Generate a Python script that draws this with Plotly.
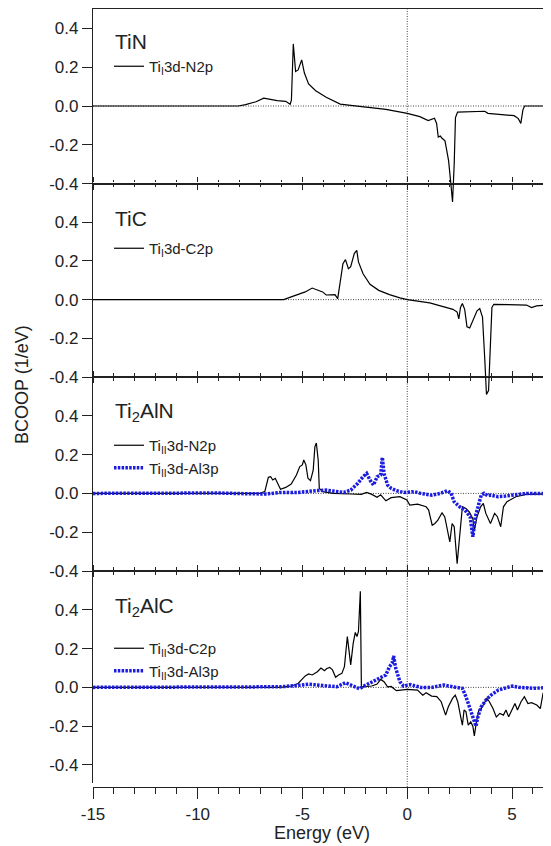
import plotly.graph_objects as go

# ---- data (energy in eV, BCOOP in 1/eV) ----
tin_x = [-15, -8.06, -7.72, -7.22, -6.85, -6.55, -6.21, -5.80, -5.68, -5.59, -5.53, -5.44, -5.33,
         -5.21, -5.04, -4.91, -4.71, -4.37, -3.87, -3.20, -2.70, -1.69, -1.02, 0.0, 0.6, 1.0, 1.15,
         1.3, 1.4, 1.48, 1.58, 1.65, 1.8, 1.97, 2.08, 2.16, 2.24, 2.3, 2.4, 3.0, 3.7, 3.85, 4.6,
         5.1, 5.3, 5.42, 5.52, 5.6, 6.86]
tin_y = [0, 0, 0.007, 0.022, 0.04, 0.033, 0.028, 0.024, 0.017, 0.009, 0.03, 0.32, 0.178,
         0.186, 0.238, 0.17, 0.114, 0.079, 0.045, 0.010, 0.003, -0.007, -0.017, -0.038, -0.055, -0.075, -0.068,
         -0.063, -0.09, -0.16, -0.155, -0.165, -0.18, -0.28, -0.4, -0.495, -0.3, -0.06, -0.032, -0.028, -0.027, -0.038, -0.045,
         -0.05, -0.065, -0.09, -0.02, 0.0, 0.0]

tic_x = [-15, -5.9, -5.54, -4.87, -4.54, -4.37, -4.04, -3.87, -3.45, -3.32, -3.2, -3.07, -2.95,
         -2.81, -2.70, -2.53, -2.41, -2.33, -2.11, -1.78, -1.36, -0.85, -0.35, 0.0, 1.07, 2.18, 2.38,
         2.46, 2.54, 2.63, 2.74, 2.85, 2.98, 3.14, 3.33, 3.46, 3.59, 3.70, 3.78, 3.88, 3.97, 4.04,
         4.13, 5.06, 5.69, 5.93, 6.17, 6.86]
tic_y = [0, 0, 0.014, 0.04, 0.06, 0.052, 0.04, 0.024, 0.026, 0.005, 0.1, 0.186, 0.207,
         0.16, 0.17, 0.238, 0.255, 0.195, 0.134, 0.079, 0.048, 0.026, 0.009, 0.0, -0.017, -0.05, -0.064,
         -0.10, -0.04, -0.02, -0.05, -0.14, -0.146, -0.106, -0.058, -0.046, -0.09, -0.31, -0.49, -0.47, -0.23, -0.04,
         -0.024, -0.027, -0.028, -0.041, -0.032, -0.026]

alN_n_x = [-15, -7.05, -6.80, -6.63, -6.52, -6.42, -6.30, -6.18, -6.05, -5.80, -5.54, -5.29, -5.13,
           -5.01, -4.94, -4.84, -4.74, -4.62, -4.49, -4.41, -4.34, -4.25, -4.20, -4.04, -3.53, -2.70,
           -2.19, -1.94, -1.69, -1.44, -1.27, -1.02, -0.77, -0.35, -0.02, 0.12, 0.49, 0.90, 1.02, 1.19,
           1.32, 1.46, 1.66, 1.79, 1.91, 2.03, 2.14, 2.24, 2.38, 2.50, 2.63, 2.80, 2.96, 3.13, 3.20,
           3.33, 3.50, 3.63, 3.75, 3.97, 4.17, 4.30, 4.46, 4.59, 4.76, 5.18, 5.68, 6.86]
alN_n_y = [0, 0, 0.009, 0.083, 0.086, 0.069, 0.078, 0.048, 0.021, 0.031, 0.048, 0.095, 0.138,
           0.147, 0.172, 0.147, 0.078, 0.066, 0.12, 0.24, 0.26, 0.17, 0.026, 0.009, 0.0, -0.003,
           -0.005, 0.005, -0.005, -0.02, -0.007, -0.038, -0.022, -0.017, -0.034, -0.06, -0.055, -0.069, -0.086, -0.164,
           -0.155, -0.138, -0.1, -0.121, -0.19, -0.25, -0.155, -0.172, -0.362, -0.224, -0.069, -0.078, -0.095, -0.13, -0.19,
           -0.12, -0.069, -0.052, -0.103, -0.155, -0.103, -0.12, -0.172, -0.069, -0.043, -0.017, -0.005, -0.003]

alN_al_x = [-15, -9.0, -7.5, -6.72, -6.05, -5.21, -4.37, -3.87, -3.53, -3.03, -2.70, -2.36, -2.11,
            -1.94, -1.78, -1.61, -1.44, -1.27, -1.19, -1.11, -0.94, -0.77, -0.52, -0.18, 0.32, 0.65,
            1.16, 1.57, 1.91, 2.08, 2.24, 2.50, 2.75, 3.00, 3.13, 3.25, 3.42, 3.53, 3.67, 3.84, 4.00,
            4.34, 4.67, 5.18, 5.68, 6.86]
alN_al_y = [0, 0.002, -0.002, -0.003, 0.005, 0.005, 0.014, 0.017, 0.012, 0.005, 0.017, 0.052, 0.086,
            0.103, 0.069, 0.043, 0.086, 0.095, 0.186, 0.103, 0.043, 0.026, 0.014, 0.005, 0.009, 0.0,
            -0.009, 0.0, 0.014, 0.003, -0.043, -0.069, -0.086, -0.12, -0.224, -0.12, -0.052, -0.009, 0.0, -0.012, -0.009,
            -0.017, -0.014, -0.005, 0.0, 0.0]

alC_c_x = [-15, -6.05, -5.54, -5.21, -4.87, -4.71, -4.54, -4.29, -4.12, -3.95, -3.84, -3.70, -3.57,
           -3.42, -3.28, -3.12, -3.00, -2.86, -2.70, -2.58, -2.48, -2.40, -2.33, -2.24, -2.19, -1.69,
           -1.44, -1.27, -1.11, -0.94, -0.77, -0.52, 0.0, 0.49, 0.74, 0.90, 1.16, 1.41, 1.62, 1.74,
           1.83, 1.96, 2.16, 2.29, 2.41, 2.55, 2.63, 2.71, 2.80, 2.91, 3.03, 3.13, 3.20, 3.30, 3.42,
           3.53, 3.67, 3.80, 3.92, 4.09, 4.25, 4.42, 4.59, 4.71, 4.84, 5.01, 5.14, 5.26, 5.43, 5.59,
           5.76, 5.93, 6.18, 6.35, 6.48, 6.60, 6.86]
alC_c_y = [0, 0, 0.007, 0.02, 0.059, 0.069, 0.064, 0.081, 0.1, 0.086, 0.097, 0.103, 0.09,
           0.052, 0.064, 0.072, 0.107, 0.262, 0.116, 0.228, 0.283, 0.262, 0.288, 0.495, 0.003, 0.007,
           0.017, 0.041, 0.029, 0.003, 0.005, -0.017, -0.01, -0.014, -0.04, -0.028, -0.045, -0.048, -0.074, -0.117,
           -0.143, -0.1, -0.057, -0.04, -0.074, -0.152, -0.195, -0.117, -0.125, -0.195, -0.178, -0.2, -0.25, -0.178, -0.117,
           -0.109, -0.083, -0.057, -0.074, -0.109, -0.152, -0.134, -0.143, -0.117, -0.152, -0.117, -0.083, -0.117, -0.074, -0.048,
           -0.083, -0.079, -0.091, -0.109, -0.031, -0.007, 0.0]

alC_al_x = [-15, -6.05, -5.04, -4.71, -4.04, -3.37, -2.95, -2.70, -2.28, -2.03, -1.69, -1.36, -1.02,
            -0.85, -0.72, -0.65, -0.55, -0.35, -0.18, 0.15, 0.65, 1.16, 1.74, 2.33, 2.63, 2.80, 3.00,
            3.17, 3.28, 3.37, 3.53, 3.75, 4.00, 4.34, 5.01, 5.34, 6.01, 6.86]
alC_al_y = [0, 0.003, 0.012, 0.016, 0.01, 0.003, 0.024, 0.012, -0.007, 0.009, 0.029, 0.047, 0.064,
            0.107, 0.124, 0.162, 0.098, 0.029, 0.007, 0.014, 0.0, 0.0, 0.012, 0.0, -0.005, -0.048, -0.117,
            -0.169, -0.2, -0.152, -0.1, -0.066, -0.04, -0.014, 0.007, 0.0, -0.005, 0.0]

panel_names = ["TiN", "TiC", "Ti<sub>2</sub>AlN", "Ti<sub>2</sub>AlC"]
x_ticks = [-15, -10, -5, 0, 5]
x_ticktext = ["-15", "-10", "-5", "0", "5"]
y_ticks = [-0.4, -0.2, 0.0, 0.2, 0.4]
y_ticktext = ["-0.4", "-0.2", "0.0", "0.2", "0.4"]

# ---- layout geometry ----
# page pixels are measured on the 551x846 screenshot; the html body adds an 8px margin
OFF = 8
W, H = 551 - OFF, 846 - OFF
LEFT = 93 - OFF


def py(p):
    return 1 - (p - OFF) / H


def px(p):
    return (p - OFF - LEFT) / (W - LEFT)


FONT = "Liberation Sans, Arial, Helvetica, sans-serif"
INK = "#222222"
BLUE = "#1c1ce0"
x_range = [-15, 6.86]
tops = [9, 183.6, 377, 571]
bottoms = [183.6, 377, 571, 783]
y_ranges = [[-0.4, 0.5], [-0.4, 0.6], [-0.4, 0.6], [-0.493, 0.6]]
al_dash = "2.5px,1.3px"

fig = go.Figure()

# TiN / TiC dips run past their panel, so those curves live on taller hidden axes
fig.add_trace(go.Scatter(x=tin_x, y=tin_y, xaxis="x", yaxis="y5", mode="lines",
                         name="Ti<sub>I</sub>3d-N2p", legend="legend",
                         line=dict(color="black", width=1.2)))
fig.add_trace(go.Scatter(x=tic_x, y=tic_y, xaxis="x2", yaxis="y6", mode="lines",
                         name="Ti<sub>I</sub>3d-C2p", legend="legend2",
                         line=dict(color="black", width=1.2)))
fig.add_trace(go.Scatter(x=alN_n_x, y=alN_n_y, xaxis="x3", yaxis="y3", mode="lines",
                         name="Ti<sub>II</sub>3d-N2p", legend="legend3",
                         line=dict(color="black", width=1.2)))
fig.add_trace(go.Scatter(x=alN_al_x, y=alN_al_y, xaxis="x3", yaxis="y3", mode="lines",
                         name="Ti<sub>II</sub>3d-Al3p", legend="legend3",
                         line=dict(color=BLUE, width=3.5, dash=al_dash)))
fig.add_trace(go.Scatter(x=alC_c_x, y=alC_c_y, xaxis="x4", yaxis="y4", mode="lines",
                         name="Ti<sub>II</sub>3d-C2p", legend="legend4",
                         line=dict(color="black", width=1.2)))
fig.add_trace(go.Scatter(x=alC_al_x, y=alC_al_y, xaxis="x4", yaxis="y4", mode="lines",
                         name="Ti<sub>II</sub>3d-Al3p", legend="legend4",
                         line=dict(color=BLUE, width=3.5, dash=al_dash)))
# placeholders so that the empty panel-axes get drawn
fig.add_trace(go.Scatter(x=[None], y=[None], xaxis="x", yaxis="y", showlegend=False))
fig.add_trace(go.Scatter(x=[None], y=[None], xaxis="x2", yaxis="y2", showlegend=False))
fig.add_trace(go.Scatter(x=[None], y=[None], xaxis="x5", yaxis="y4", showlegend=False))

tickfont = dict(family=FONT, size=17, color=INK)
minor_cross = dict(tickmode="linear", tick0=0, dtick=1, ticks="outside", ticklen=2.5,
                   tickcolor=INK, tickwidth=1)
xcommon = dict(range=x_range, tickvals=x_ticks, ticktext=x_ticktext, showgrid=False,
               zeroline=False, showline=True, linecolor=INK, linewidth=1.3,
               ticks="outside", tickcolor=INK, tickwidth=1)

lay = dict(width=W, height=H, margin=dict(l=LEFT, r=0, t=0, b=0),
           paper_bgcolor="white", plot_bgcolor="rgba(0,0,0,0)", template="none",
           font=dict(family=FONT, color=INK))

for i in range(4):
    k = "" if i == 0 else str(i + 1)
    lay["yaxis" + k] = dict(domain=[py(bottoms[i]), py(tops[i])], range=y_ranges[i],
                            anchor="x" + k, tickvals=y_ticks, ticktext=y_ticktext,
                            tickfont=tickfont, showgrid=False, zeroline=False,
                            showline=True, linecolor=INK, linewidth=1.3,
                            ticks="outside", ticklen=10, tickcolor=INK, tickwidth=1)

lay["xaxis"] = dict(xcommon, anchor="y", ticklen=5, mirror=True, showticklabels=False,
                    minor=minor_cross)
lay["xaxis2"] = dict(xcommon, anchor="y2", ticklen=5, mirror="ticks", showticklabels=False,
                     matches="x", minor=minor_cross)
lay["xaxis3"] = dict(xcommon, anchor="y3", ticklen=5, mirror="ticks", showticklabels=False,
                     matches="x", minor=minor_cross)
lay["xaxis4"] = dict(xcommon, anchor="free", position=py(787), ticklen=11, matches="x",
                     tickfont=tickfont,
                     minor=dict(tickmode="linear", tick0=0, dtick=1, ticks="outside",
                                ticklen=6, tickcolor=INK, tickwidth=1))
lay["xaxis5"] = dict(xcommon, anchor="y4", side="top", overlaying="x4", ticklen=5,
                     showticklabels=False, matches="x", minor=minor_cross)

# hidden taller axes for the TiN and TiC curves (same scale as their panels)
lay["yaxis5"] = dict(domain=[py(183.6 + 0.15 * 194.0), py(tops[0])], range=[-0.55, 0.5],
                     anchor="x", visible=False)
lay["yaxis6"] = dict(domain=[py(377 + 0.15 * 193.4), py(tops[1])], range=[-0.55, 0.6],
                     anchor="x2", visible=False)

leg = dict(xanchor="left", yanchor="top", bgcolor="rgba(0,0,0,0)", borderwidth=0,
           font=dict(family=FONT, size=15, color=INK), itemwidth=30, tracegroupgap=0)
lay["legend"] = dict(leg, x=px(109), y=py(50))
lay["legend2"] = dict(leg, x=px(109), y=py(232))
lay["legend3"] = dict(leg, x=px(109), y=py(429))
lay["legend4"] = dict(leg, x=px(109), y=py(632))

fig.update_layout(**lay)

dotted = dict(color="#444444", width=1, dash="1px,1.5px")
shapes = []
for i in range(4):
    k = "" if i == 0 else str(i + 1)
    shapes.append(dict(type="line", xref="x" + k + " domain", yref="y" + k, x0=0, x1=1,
                       y0=0, y1=0, layer="below", line=dotted))
shapes.append(dict(type="line", xref="x", yref="paper", x0=0, x1=0, y0=py(787), y1=py(9),
                   layer="below", line=dotted))
fig.update_layout(shapes=shapes)

label_y = [41.7, 218.3, 411.7, 606.7]
for name, yy in zip(panel_names, label_y):
    fig.add_annotation(text=name, xref="paper", yref="paper", x=px(113), y=py(yy),
                       xanchor="left", yanchor="middle", showarrow=False,
                       font=dict(family=FONT, size=21, color=INK))

fig.add_annotation(text="BCOOP (1/eV)", xref="paper", yref="paper", x=px(22),
                   y=py(385), textangle=-90, xanchor="center", yanchor="middle",
                   showarrow=False, font=dict(family=FONT, size=18, color=INK))
fig.add_annotation(text="Energy (eV)", xref="paper", yref="paper", x=px(322), y=py(833),
                   xanchor="center", yanchor="middle", showarrow=False,
                   font=dict(family=FONT, size=18, color=INK))

fig.write_html("out.html")
